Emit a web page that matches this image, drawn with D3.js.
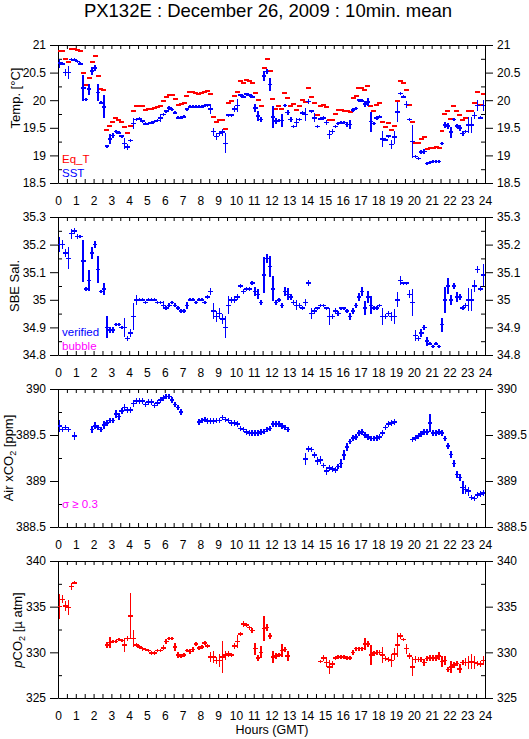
<!DOCTYPE html>
<html>
<head>
<meta charset="utf-8">
<script src="https://cdn.jsdelivr.net/npm/d3@7"></script>
<style>
  body { margin: 0; background: #fff; }
  text { font-family: "Liberation Sans", Arial, sans-serif; }
</style>
</head>
<body>
<div id="chart"></div>
<script>
// 10-minute means, one value per slot (144 slots a day), null = no data
var eqT = [20.89,20.89,20.74,20.69,20.93,20.93,20.91,20.89,
  20.50,20.27,20.41,20.70,20.80,20.43,20.20,20.18,
  19.46,19.54,19.60,19.67,19.65,19.60,19.51,19.40,
  19.53,19.81,19.89,19.90,19.89,19.83,19.84,19.84,
  19.86,19.87,19.89,19.98,20.05,20.10,20.09,20.02,
  19.92,19.93,19.95,20.07,20.14,20.15,20.13,20.11,
  20.13,20.14,20.16,20.11,19.69,19.61,19.64,19.64,
  19.48,19.95,19.99,20.08,20.14,20.34,20.31,20.36,
  20.34,20.32,20.13,20.01,19.89,20.58,20.74,20.52,
  20.02,19.84,19.89,19.84,20.13,20.04,19.90,19.93,
  19.83,19.89,20.00,19.97,20.23,20.05,19.95,19.74,
  19.90,19.92,19.88,19.64,19.65,19.75,19.82,19.82,
  19.81,19.80,19.78,20.04,20.07,20.22,20.22,20.18,
  20.25,19.89,19.81,19.91,19.95,19.60,19.52,19.58,
  19.46,19.53,19.98,20.34,20.31,20.18,19.91,19.60,
  19.23,19.22,19.29,19.33,19.12,19.13,19.13,19.15,
  19.13,19.45,19.75,19.81,19.66,19.89,19.80,19.73,
  19.64,19.67,19.80,19.80,19.95,20.15,19.92,20.11];

var sst = [20.67,20.66,20.50,20.50,20.74,20.73,20.70,20.66,
  20.22,20.01,20.20,20.53,20.58,20.14,19.95,19.88,
  19.17,19.30,19.36,19.43,19.41,19.35,19.22,19.15,
  19.27,19.58,19.65,19.66,19.62,19.57,19.58,19.59,
  19.61,19.63,19.68,19.74,19.80,19.86,19.83,19.77,
  19.68,19.68,19.70,19.84,19.88,19.89,19.88,19.88,
  19.88,19.90,19.91,19.84,19.43,19.34,19.40,19.42,
  19.22,19.73,19.73,19.84,19.90,20.09,20.06,20.11,
  20.09,20.06,19.86,19.71,19.65,20.44,20.52,20.28,
  19.70,19.62,19.63,19.63,19.90,19.78,19.65,19.52,
  19.60,19.65,19.77,19.74,19.98,19.80,19.68,19.52,
  19.66,19.68,19.60,19.38,19.43,19.52,19.58,19.59,
  19.60,19.56,19.56,19.82,19.85,20.00,19.99,19.93,
  19.97,19.61,19.58,19.68,19.70,19.30,19.28,19.35,
  19.20,19.33,19.79,20.12,20.06,19.92,19.65,19.25,
  18.98,18.94,19.06,19.07,18.85,18.87,18.89,18.89,
  18.89,19.22,19.55,19.53,19.42,19.65,19.53,19.50,
  19.40,19.43,19.55,19.55,19.72,19.90,19.68,19.90];

var sstErr = [0.08,0.03,0.06,0.12,0.01,0.01,0.01,0.02,
  0.23,0.01,0.10,0.07,0.06,0.15,0.01,0.21,
  0.02,0.09,0.04,0.02,0.01,0.02,0.10,0.05,
  0.03,0.10,0.02,0.01,0.02,0.01,0.01,0.01,
  0.02,0.02,0.07,0.02,0.02,0.03,0.02,0.02,
  0.02,0.01,0.02,0.02,0.01,0.01,0.01,0.01,
  0.01,0.01,0.02,0.09,0.07,0.07,0.04,0.06,
  0.18,0.02,0.02,0.06,0.12,0.02,0.02,0.02,
  0.02,0.02,0.07,0.09,0.04,0.09,0.04,0.12,
  0.20,0.05,0.03,0.12,0.02,0.05,0.04,0.03,
  0.08,0.03,0.03,0.12,0.05,0.02,0.08,0.03,
  0.02,0.03,0.05,0.08,0.05,0.03,0.02,0.02,
  0.02,0.05,0.08,0.03,0.03,0.02,0.02,0.05,
  0.07,0.18,0.03,0.04,0.03,0.15,0.02,0.02,
  0.08,0.12,0.18,0.03,0.02,0.07,0.02,0.30,
  0.02,0.02,0.03,0.05,0.02,0.02,0.02,0.02,
  0.02,0.03,0.06,0.06,0.10,0.03,0.03,0.05,
  0.05,0.02,0.15,0.15,0.06,0.10,0.02,0.10];

var sal = [35.20,35.20,35.17,35.15,35.24,35.25,35.23,35.23,
  35.14,35.04,35.07,35.17,35.20,35.11,35.03,35.04,
  34.90,34.89,34.89,34.91,34.91,34.90,34.90,34.86,
  34.88,34.94,35.00,35.00,35.00,34.99,35.00,35.00,
  35.00,34.99,34.99,34.98,34.97,34.98,34.99,34.98,
  34.97,34.96,34.96,34.98,35.00,35.00,34.99,35.00,
  35.00,34.99,35.01,35.03,34.96,34.94,34.95,34.93,
  34.90,34.98,35.00,35.00,35.01,35.05,35.03,35.04,
  35.04,35.06,35.03,35.02,34.99,35.09,35.15,35.12,
  35.04,34.99,35.00,34.98,35.03,35.02,35.01,34.99,
  34.98,34.98,34.97,34.99,35.06,34.95,34.96,34.97,
  34.98,34.98,34.97,34.94,34.94,34.96,34.95,34.97,
  34.97,34.96,34.94,34.96,34.98,35.01,35.03,34.97,
  35.01,34.98,34.97,34.97,34.98,34.94,34.94,34.95,
  34.94,34.94,35.00,35.07,35.06,35.06,35.02,34.99,
  34.87,34.86,34.88,34.90,34.85,34.84,34.83,34.84,
  34.83,34.91,35.00,35.05,35.00,35.05,35.01,35.01,
  34.97,34.98,35.00,35.00,35.05,35.11,35.04,35.09];

var salErr = [0.027,0.015,0.015,0.04,0.018,0.01,0.008,0.005,
  0.077,0.008,0.037,0.021,0.012,0.05,0.005,0.022,
  0.04,0.012,0.01,0.005,0.005,0.005,0.033,0.008,
  0.015,0.05,0.018,0.005,0.005,0.005,0.005,0.005,
  0.005,0.005,0.005,0.015,0.007,0.007,0.007,0.007,
  0.007,0.007,0.007,0.012,0.006,0.006,0.006,0.006,
  0.006,0.006,0.006,0.012,0.03,0.02,0.021,0.018,
  0.04,0.033,0.01,0.012,0.012,0.008,0.01,0.008,
  0.008,0.008,0.015,0.018,0.01,0.066,0.015,0.039,
  0.046,0.008,0.008,0.008,0.015,0.021,0.012,0.01,
  0.018,0.008,0.008,0.013,0.01,0.021,0.01,0.005,
  0.005,0.005,0.005,0.031,0.01,0.012,0.01,0.005,
  0.005,0.008,0.012,0.01,0.008,0.015,0.015,0.024,
  0.021,0.033,0.006,0.006,0.006,0.031,0.008,0.01,
  0.017,0.026,0.027,0.016,0.005,0.005,0.015,0.048,
  0.019,0.01,0.015,0.01,0.017,0.005,0.005,0.005,
  0.005,0.025,0.048,0.028,0.019,0.012,0.018,0.01,
  0.008,0.008,0.042,0.039,0.021,0.012,0.009,0.039];

var xco2 = [389.60,389.56,389.58,389.56,null,389.49,null,null,
  null,null,null,389.56,389.60,389.58,389.56,389.61,
  389.63,389.66,389.66,389.73,389.70,389.76,389.80,389.77,
  389.77,389.84,389.87,389.87,389.87,389.83,389.86,389.86,
  389.82,389.85,389.88,389.90,389.92,389.92,389.88,389.83,
  389.80,389.75,null,null,null,null,null,389.64,
  389.66,389.67,389.65,389.65,389.65,389.66,389.66,389.69,
  389.67,389.66,389.63,389.63,389.62,389.57,389.56,389.53,
  389.52,389.52,389.52,389.52,389.53,389.54,389.56,389.57,
  389.62,389.62,389.62,389.60,389.58,389.56,null,null,
  null,null,null,389.24,389.35,389.34,389.28,389.22,
  389.23,389.17,389.11,389.14,389.13,389.12,389.16,389.19,
  389.28,389.37,389.43,389.47,389.48,389.52,389.53,389.50,
  389.48,389.46,389.46,389.47,389.48,389.52,389.58,389.62,
  389.63,389.64,null,null,null,null,null,389.45,
  389.47,389.49,389.51,389.53,389.53,389.63,389.52,389.52,
  389.53,389.52,389.46,389.38,389.29,389.19,389.07,389.04,
  388.93,388.91,388.89,388.82,388.81,388.85,388.86,388.87];

var xco2Err = [0.063,0.03,0.03,0.03,0,0.04,0,0,
  0,0,0,0.04,0.04,0.03,0.03,0.04,
  0.03,0.03,0.03,0.04,0.04,0.03,0.04,0.03,
  0.03,0.04,0.03,0.03,0.03,0.03,0.03,0.03,
  0.03,0.03,0.03,0.03,0.03,0.03,0.03,0.03,
  0.03,0.03,0,0,0,0,0,0.03,
  0.03,0.03,0.03,0.03,0.03,0.03,0.03,0.03,
  0.03,0.03,0.03,0.03,0.03,0.03,0.03,0.03,
  0.03,0.03,0.03,0.03,0.03,0.03,0.03,0.03,
  0.03,0.03,0.03,0.03,0.03,0.03,0,0,
  0,0,0,0.063,0.035,0.03,0.03,0.045,
  0.04,0.03,0.045,0.03,0.03,0.03,0.03,0.045,
  0.054,0.04,0.03,0.03,0.03,0.03,0.03,0.03,
  0.03,0.03,0.03,0.03,0.03,0.03,0.03,0.03,
  0.03,0.03,0,0,0,0,0,0.03,
  0.03,0.03,0.03,0.03,0.03,0.1,0.03,0.03,
  0.03,0.03,0.03,0.035,0.035,0.04,0.04,0.04,
  0.07,0.05,0.05,0.03,0.03,0.03,0.03,0.03];

var pco2 = [335.0,335.8,335.1,334.9,337.2,337.6,null,null,
  null,null,null,null,null,null,null,null,
  330.8,331.1,331.2,331.2,331.4,331.3,330.8,331.5,
  334.0,331.5,330.8,330.6,330.4,330.3,330.2,329.9,
  329.9,330.2,330.2,330.5,331.2,331.5,331.5,330.6,
  329.7,329.6,329.7,330.2,330.1,330.3,330.9,330.5,
  330.6,331.0,330.7,329.5,329.5,329.1,329.1,329.5,
  329.7,329.8,329.7,330.7,331.2,332.0,333.1,333.0,
  332.7,332.4,330.4,329.4,330.0,332.6,332.7,331.8,
  329.5,329.6,329.7,330.2,330.3,329.6,null,null,
  null,null,null,null,null,null,null,null,
  329.0,329.4,328.9,328.4,328.7,329.4,329.5,329.5,
  329.5,329.4,329.4,330.0,330.4,330.4,330.4,330.9,
  330.9,329.7,329.9,330.0,330.0,329.7,329.3,329.2,
  329.1,329.8,330.8,331.8,331.4,330.4,329.6,328.4,
  329.2,329.2,329.2,328.9,329.3,329.4,329.4,329.4,
  329.6,329.0,329.1,328.1,328.4,328.6,328.8,328.2,
  328.9,328.9,328.9,329.0,328.9,328.8,328.7,329.1];

var pco2Err = [1.38,0.45,0.55,0.85,0.4,0.15,0,0,
  0,0,0,0,0,0,0,0,
  0.3,0.6,0.2,0.2,0.2,0.2,0.73,0.3,
  2.54,0.9,0.2,0.2,0.2,0.2,0.2,0.2,
  0.2,0.2,0.2,0.25,0.3,0.2,0.2,0.45,
  0.36,0.2,0.2,0.2,0.25,0.25,0.2,0.2,
  0.2,0.2,0.2,0.55,0.64,0.4,0.67,1.73,
  0.5,0.3,0.2,0.35,0.73,0.25,0.3,0.2,
  0.2,0.3,0.67,0.3,0.64,1.4,0.4,0.3,
  0.64,0.3,0.2,0.67,0.3,0.55,0,0,
  0,0,0,0,0,0,0,0,
  0.2,0.3,0.55,0.73,0.4,0.25,0.25,0.25,
  0.25,0.25,0.25,0.3,0.2,0.2,0.2,0.64,
  0.3,1.1,0.3,0.3,0.3,0.9,0.3,0.3,
  0.67,0.64,1.27,0.3,0.2,0.55,0.3,1.04,
  0.4,0.3,0.3,0.4,0.3,0.3,0.3,0.3,
  0.45,0.58,0.45,0.3,0.64,0.3,0.3,0.5,
  0.3,0.45,0.73,0.84,0.73,0.3,0.3,0.45];

// slot centres in hours (10-min grid)
var hours = d3.range(144).map(function(i) { return (i + 0.5) / 6; });

var W = 529, H = 739;
var svg = d3.select("#chart").append("svg")
    .attr("width", W)
    .attr("height", H);

var x = d3.scaleLinear().domain([0, 24]).range([58, 485]);

var panels = [
  {top: 45, bottom: 183, domain: [18.5, 21], step: 0.5},
  {top: 217, bottom: 355, domain: [34.8, 35.3], step: 0.1},
  {top: 389, bottom: 527, domain: [388.5, 390], step: 0.5},
  {top: 561, bottom: 698, domain: [325, 340], step: 5}
];

function ticksFor(lo, hi, step) {
  var n = Math.round((hi - lo) / step);
  return d3.range(n + 1).map(function(k) { return +(lo + k * step).toFixed(3); });
}

var halfHours = d3.range(49).map(function(k) { return k / 2; });
var fmt = function(d) { return String(+d.toFixed(2)); };

panels.forEach(function(p) {
  var y = d3.scaleLinear().domain(p.domain).range([p.bottom, p.top]);
  p.y = y;
  var majors = ticksFor(p.domain[0], p.domain[1], p.step);
  var minors = majors.slice(1).map(function(v, k) { return (v + majors[k]) / 2; });

  // left / right majors (outward) with labels
  var gl = svg.append("g").attr("transform", "translate(58,0)")
    .call(d3.axisLeft(y).tickValues(majors).tickSize(8).tickSizeOuter(0).tickPadding(4).tickFormat(fmt));
  var gr = svg.append("g").attr("transform", "translate(485,0)")
    .call(d3.axisRight(y).tickValues(majors).tickSize(8).tickSizeOuter(0).tickPadding(4).tickFormat(fmt));
  // minors (inward)
  svg.append("g").attr("transform", "translate(58,0)")
    .call(d3.axisLeft(y).tickValues(minors).tickSize(-4).tickFormat(""))
    .select(".domain").remove();
  svg.append("g").attr("transform", "translate(485,0)")
    .call(d3.axisRight(y).tickValues(minors).tickSize(-4).tickFormat(""))
    .select(".domain").remove();

  // top / bottom hour axes
  svg.append("g").attr("transform", "translate(0," + p.top + ")")
    .call(d3.axisTop(x).tickValues(halfHours).tickSize(-4).tickSizeOuter(0).tickFormat(""));
  var gb = svg.append("g").attr("transform", "translate(0," + p.bottom + ")")
    .call(d3.axisBottom(x).tickValues(halfHours).tickSize(-4).tickSizeOuter(0).tickPadding(13)
      .tickFormat(function(d) { return d % 1 === 0 ? d : ""; }));

  [gl, gr, gb].forEach(function(g) {
    g.attr("font-size", 12).attr("font-family", "Liberation Sans, Arial, sans-serif");
    g.selectAll("text").attr("fill", "#000");
  });
  svg.selectAll(".domain, .tick line").attr("stroke", "#000");
});

// clip each panel to its frame
panels.forEach(function(p, pi) {
  svg.append("clipPath").attr("id", "clip" + pi)
    .append("rect")
      .attr("x", 58).attr("y", p.top)
      .attr("width", 427).attr("height", p.bottom - p.top);
  p.g = svg.append("g").attr("clip-path", "url(#clip" + pi + ")");
});

// minimum half-height of an error bar, in pixels, so every cross stays visible
var minHalf = 1.5;

function drawSeries(p, values, errs, color, halfW) {
  var pts = [];
  values.forEach(function(v, i) {
    if (v !== null) pts.push({t: hours[i], v: v, e: errs ? errs[i] : 0});
  });
  var g = p.g.append("g")
    .attr("stroke", color)
    .attr("shape-rendering", "crispEdges");
  g.selectAll("line.h").data(pts).enter().append("line")
    .attr("class", "h")
    .attr("stroke-width", errs ? 1.5 : 2)
    .attr("x1", function(d) { return x(d.t - halfW); })
    .attr("x2", function(d) { return x(d.t + halfW); })
    .attr("y1", function(d) { return p.y(d.v); })
    .attr("y2", function(d) { return p.y(d.v); });
  if (errs) {
    g.selectAll("line.v").data(pts).enter().append("line")
      .attr("class", "v")
      .attr("stroke-width", 1.5)
      .attr("x1", function(d) { return x(d.t); })
      .attr("x2", function(d) { return x(d.t); })
      .attr("y1", function(d) { return Math.max(p.y(d.v - d.e), p.y(d.v) + minHalf); })
      .attr("y2", function(d) { return Math.min(p.y(d.v + d.e), p.y(d.v) - minHalf); });
  }
}

drawSeries(panels[0], eqT, null, "#ff0000", 0.14);
drawSeries(panels[0], sst, sstErr, "#0000ff", 0.13);
drawSeries(panels[1], sal, salErr, "#0000ff", 0.13);
drawSeries(panels[2], xco2, xco2Err, "#0000ff", 0.13);
drawSeries(panels[3], pco2, pco2Err, "#ff0000", 0.13);

// title
svg.append("text")
  .attr("x", 268).attr("y", 17)
  .attr("text-anchor", "middle")
  .attr("font-size", 18.5)
  .text("PX132E : December 26, 2009 : 10min. mean");

// y axis titles
function yTitle(bx, cy) {
  return svg.append("text")
    .attr("transform", "translate(" + bx + "," + cy + ") rotate(-90)")
    .attr("text-anchor", "middle")
    .attr("font-size", 13);
}
yTitle(19.5, 98).text("Temp. [°C]");
yTitle(18.5, 286).text("SBE Sal.");
var t3 = yTitle(12.5, 458);
t3.append("tspan").text("Air xCO");
t3.append("tspan").attr("font-size", 9).attr("dy", 3).text("2");
t3.append("tspan").attr("dy", -3).text(" [ppm]");
var t4 = yTitle(22, 630);
t4.append("tspan").attr("font-style", "italic").text("p");
t4.append("tspan").text("CO");
t4.append("tspan").attr("font-size", 9).attr("dy", 3).text("2");
t4.append("tspan").attr("dy", -3).text(" [µ atm]");

// x axis title
svg.append("text")
  .attr("x", 272).attr("y", 734)
  .attr("text-anchor", "middle")
  .attr("font-size", 12.5)
  .text("Hours (GMT)");

// legends
function legend(txt, yy, color) {
  svg.append("text").attr("x", 62).attr("y", yy)
    .attr("font-size", 11.5).attr("fill", color).text(txt);
}
legend("Eq_T", 163, "#ff0000");
legend("SST", 177, "#0000ff");
legend("verified", 336, "#0000ff");
legend("bubble", 350, "#ff00ff");
legend("σ ≥ 0.3", 508, "#ff00ff");
</script>
</body>
</html>
